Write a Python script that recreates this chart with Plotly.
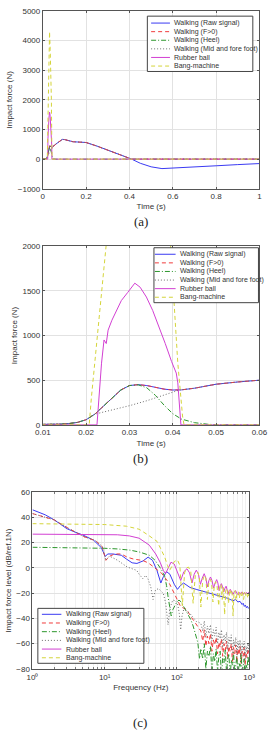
import plotly.graph_objects as go

W, H = 274, 751
def px(x):
    return x / W
def py(y):
    return 1 - y / H

# ---------------- data ----------------
series_names = ["Walking (Raw signal)", "Walking (F>0)", "Walking (Heel)",
                "Walking (Mid and fore foot)", "Rubber ball", "Bang-machine"]

# time-domain signals (s, N)
t_walk = [0, 0.010, 0.014, 0.016, 0.018, 0.020, 0.022, 0.024, 0.026, 0.028, 0.030,
          0.032, 0.034, 0.036, 0.038, 0.040, 0.042, 0.045, 0.050, 0.055, 0.060,
          0.07, 0.08, 0.09, 0.10, 0.12, 0.14, 0.16, 0.18, 0.20, 0.25, 0.30, 0.35,
          0.40, 0.41, 0.45, 0.50, 0.55, 0.60, 0.70, 0.80, 0.90, 1.00]
walk_raw = [0, 2, 8, 15, 28, 58, 120, 210, 305, 390, 440,
            450, 440, 420, 400, 390, 392, 410, 455, 480, 505,
            560, 630, 665, 660, 625, 585, 578, 572, 560, 440, 310, 180,
            45, 0, -140, -260, -320, -305, -265, -225, -185, -150]
walk_pos = [0, 2, 8, 15, 28, 58, 120, 210, 305, 390, 440,
            450, 440, 420, 400, 390, 392, 410, 455, 480, 505,
            560, 630, 665, 660, 625, 585, 578, 572, 560, 440, 310, 180,
            45, 0, 0, 0, 0, 0, 0, 0, 0, 0]

t_heel = [0, 0.010, 0.014, 0.016, 0.018, 0.020, 0.022, 0.024, 0.026, 0.028, 0.030,
          0.032, 0.034, 0.036, 0.038, 0.040, 0.042, 0.045, 0.048, 0.050, 0.060, 1.00]
heel = [0, 2, 8, 15, 28, 58, 120, 210, 305, 390, 440,
        448, 415, 330, 220, 125, 65, 25, 8, 2, 0, 0]

t_mid = [0, 0.016, 0.018, 0.020, 0.022, 0.026, 0.030, 0.034, 0.038, 0.0415, 0.045,
         0.050, 0.055, 0.060, 0.07, 0.08, 0.09, 0.10, 0.12, 0.14, 0.16, 0.18, 0.20,
         0.25, 0.30, 0.35, 0.40, 0.41, 1.00]
mid = [0, 15, 28, 58, 120, 165, 215, 270, 330, 390, 410,
       455, 480, 505, 560, 630, 665, 660, 625, 585, 578, 572, 560,
       440, 310, 180, 45, 0, 0]

t_ball = [0, 0.0225, 0.02355, 0.02413, 0.02464, 0.02507, 0.02594, 0.02703, 0.02812,
          0.02957, 0.03123, 0.03246, 0.03391, 0.03536, 0.03681, 0.03826, 0.03971,
          0.0408, 0.04116, 0.04152, 0.04188, 0.06, 1.00]
ball = [0, 0, 690, 950, 910, 1060, 1170, 1280, 1390,
        1480, 1585, 1540, 1430, 1280, 1100, 910, 710,
        580, 470, 250, 0, 0, 0]

t_bang = [0, 0.0207, 0.0212, 0.0246, 0.028, 0.031, 0.034, 0.037, 0.03949, 0.04116,
          0.04225, 0.0426, 0.06, 1.00]
bang = [0, 0, 300, 2000, 3500, 4300, 3700, 2900, 2000, 690,
        100, 0, 0, 0]

# spectra (Hz, dB re 1N)
f_raw = [1, 1.5, 2, 3, 4, 5, 7, 9, 10.2, 11, 13, 17, 20, 24, 28, 34, 40, 46, 53, 60,
         65, 72, 80, 92, 102, 112, 124, 137, 152, 185, 250, 300, 400, 500, 600, 650,
         700, 750, 800, 830, 860, 890, 920, 950, 980, 1000]
L_raw = [46, 42, 38, 31, 28, 26, 22, 16, 9, 11, 11, 10, 7, 4, 3.5, 5.5, 8.5, 6, -2, -12,
         -7, -3, -5, -13, -17, -14, -12, -13.5, -15.5, -17, -19, -20, -22.5, -24, -26, -25,
         -27, -26.5, -29, -28, -30.5, -29.5, -31.5, -30.5, -32, -31.5]

f_noise = [215, 228, 240, 252, 265, 278, 292, 306, 320, 335, 350, 366, 382, 398, 415,
           432, 450, 468, 487, 506, 526, 546, 567, 588, 610, 632, 655, 678, 702, 726,
           751, 776, 802, 828, 855, 882, 910, 938, 967, 1000]

f_pos = [1, 1.5, 2, 3, 4, 5, 7.5, 9.2, 10.4, 11.5, 13.7, 17, 20.5, 25, 33.8, 40, 48,
         62, 79, 97, 113, 125, 138, 150, 168, 185, 200]
L_pos = [43, 40, 38, 32, 28, 25, 21.5, 17, 6, 9, 11, 11, 8.5, 7, 5.8, 4, 0.6,
         -4.5, -12.5, -23, -30.7, -32, -33, -37, -41, -45, -48]
L_pos_noise = [-50, -58, -49, -62, -54, -60, -52, -66, -57, -61,
               -55, -68, -59, -63, -56, -70, -60, -65, -58, -72,
               -62, -66, -60, -74, -63, -68, -61, -75, -64, -69,
               -62, -76, -66, -70, -63, -77, -67, -71, -64, -68]

f_heel = [1, 3, 5, 10, 15, 22.7, 30.5, 41.5, 50, 56, 62, 68, 72, 76, 80, 83.5, 88, 92,
          100, 107, 115, 124, 134, 144, 156, 168, 181, 195, 206]
L_heel = [16.3, 16, 16, 15.5, 15, 14, 12.5, 10, 6, 2, -2, -7, -14, -24, -32, -38, -33,
          -30.5, -27, -25.5, -27, -30.5, -34, -37, -41, -46, -52, -59, -72]
L_heel_noise = [-64, -72, -60, -80, -66, -70, -62, -84, -68, -74,
                -64, -82, -70, -66, -86, -71, -75, -65, -83, -72,
                -68, -88, -73, -77, -67, -84, -74, -70, -89, -75,
                -78, -68, -85, -76, -72, -90, -77, -80, -70, -78]

f_mid = [1, 1.5, 2, 3, 4, 5, 7.5, 9.2, 10.4, 11.5, 12.5, 15.2, 20.5, 24, 27.8, 30,
         33.8, 37, 40, 43.5, 46.8, 50.6, 55.8, 65, 70, 75.5, 80, 87.8, 95, 102, 108,
         113, 118, 124, 135, 151, 170, 186, 200]
L_mid = [43, 40, 38, 32, 28, 25, 21.5, 17, 6, 9, 8.5, 5.9, 0.7, -1, -2, -5,
         -8.6, -6, -9, -15, -25, -17.5, -16.4, -20.3, -28, -45, -32, -25.5, -26, -28, -36,
         -49, -38, -33.3, -34, -36, -40, -42.4, -43]
L_mid_noise = [-44, -50, -42, -55, -46, -52, -45, -58, -49, -54,
               -47, -60, -51, -56, -49, -63, -53, -58, -51, -65,
               -55, -60, -53, -67, -57, -62, -55, -69, -58, -64,
               -57, -70, -60, -65, -58, -72, -62, -67, -60, -66]

f_ball = [1, 5, 10, 15, 22, 30, 41.5, 50.9, 58.6, 65, 69.6, 76, 83, 92, 100, 113, 125,
          138, 150, 162, 174, 186, 199, 212, 225, 239, 252, 265, 278, 292, 307, 322,
          339, 356, 370, 385, 400, 414, 430, 447, 464, 481, 495, 510, 530, 550, 575,
          600, 625, 650, 680, 710, 740, 770, 800, 830, 860, 890, 920, 950, 980, 1000]
L_ball = [26.7, 26.6, 26.5, 26.2, 25.3, 23.5, 18, 11, 4.5, -2, -4.6, 0, 4.5, 3, -2, -10,
          -3, -0.7, -4, -12, -5, -1.8, -5, -13, -8, -4.6, -8, -15, -10, -7.2, -10, -16,
          -12, -9.3, -12, -18, -14, -12.5, -15, -19, -16, -14.5, -17, -21, -18, -17, -19,
          -21, -19, -18, -20, -21.5, -19.5, -20.5, -19, -21, -19.5, -20.5, -19.5, -20.5,
          -19.5, -20]

f_bang = [1, 5, 10, 20, 30, 40, 53, 60, 68, 74, 79.5, 85, 92, 102, 110, 119, 128, 136,
          145, 156, 168, 180, 195, 205, 215, 228, 240, 252, 265, 277, 290, 303, 316,
          330, 345, 360, 380, 395, 410, 425, 440, 459, 475, 490, 505, 520, 540, 560,
          580, 600, 620, 640, 660, 685, 710, 735, 760, 785, 810, 840, 870, 900, 930,
          960, 1000]
L_bang = [35, 34.8, 34.3, 33, 30.6, 26, 21, 15, 8.4, 2, -2, 1, 5, 6.3, 2, -30, -4, 0,
          0.6, -3, -28, -6, -3.3, -8, -31, -10, -6, -8, -25, -12, -9, -12, -27,
          -14, -11, -14, -30, -14, -13, -25, -15, -37, -18, -16, -19, -28, -17, -20,
          -18, -38, -19, -18, -26, -19, -19, -24, -19, -22, -19, -25, -19.5, -22, -20,
          -24, -20]

freq_ticks = [1, 10, 100, 1000]
freq_tick_labels = ["10\u2070", "10\u00b9", "10\u00b2", "10\u00b3"]

# ---------------- styles ----------------
colors = ["#3a3af2", "#f03c3c", "#2c962c", "#6e6e6e", "#d23fd2", "#d4d43a"]
dashes = ["solid", "4px,3px", "5px,2px,1px,2px", "1px,2px", "solid", "4px,3px"]

time_series = [(t_walk, walk_raw), (t_walk, walk_pos), (t_heel, heel),
               (t_mid, mid), (t_ball, ball), (t_bang, bang)]
spec_series = [(f_raw, L_raw), (f_pos + f_noise, L_pos + L_pos_noise),
               (f_heel + f_noise, L_heel + L_heel_noise),
               (f_mid + f_noise, L_mid + L_mid_noise),
               (f_ball, L_ball), (f_bang, L_bang)]

fig = go.Figure()
for (xa, ya) in [("x", "y"), ("x2", "y2")]:
    for i, (tx, ty) in enumerate(time_series):
        fig.add_trace(go.Scatter(x=tx, y=ty, mode="lines", name=series_names[i],
                                 xaxis=xa, yaxis=ya, showlegend=False,
                                 line=dict(color=colors[i], width=1, dash=dashes[i])))
for i, (fx, fy) in enumerate(spec_series):
    fig.add_trace(go.Scatter(x=fx, y=fy, mode="lines", name=series_names[i],
                             xaxis="x3", yaxis="y3", showlegend=False,
                             line=dict(color=colors[i], width=1, dash=dashes[i])))

axis_common = dict(showline=True, linecolor="#555", linewidth=1, mirror="ticks",
                   ticks="inside", ticklen=2, tickcolor="#555", showgrid=True,
                   gridcolor="#e2e2e2", zeroline=False,
                   tickfont=dict(size=8, color="#333"))
title_font = dict(size=8, color="#333")

minor_vals = [2, 3, 4, 5, 6, 7, 8, 9, 20, 30, 40, 50, 60, 70, 80, 90,
              200, 300, 400, 500, 600, 700, 800, 900]

fig.update_layout(
    width=W, height=H, margin=dict(l=0, r=0, t=0, b=0),
    paper_bgcolor="white", plot_bgcolor="white",
    font=dict(family="Liberation Sans, Arial, sans-serif", size=8, color="#333"),
    xaxis=dict(domain=[px(37), px(267)], anchor="y", range=[0, 1],
               tickvals=[0, 0.2, 0.4, 0.6, 0.8, 1], ticktext=["0", "0.2", "0.4", "0.6", "0.8", "1"],
               title=dict(text="Time (s)", font=title_font, standoff=3), **axis_common),
    yaxis=dict(domain=[py(187), py(7)], anchor="x", range=[-1000, 5000], dtick=1000,
               title=dict(text="Impact force (N)", font=title_font, standoff=3), **axis_common),
    xaxis2=dict(domain=[px(37), px(267)], anchor="y2", range=[0.01, 0.06],
                tickvals=[0.01, 0.02, 0.03, 0.04, 0.05, 0.06],
                ticktext=["0.01", "0.02", "0.03", "0.04", "0.05", "0.06"],
                title=dict(text="Time (s)", font=title_font, standoff=3), **axis_common),
    yaxis2=dict(domain=[py(426), py(245)], anchor="x2", range=[0, 2000], dtick=500,
                title=dict(text="Impact force (N)", font=title_font, standoff=3), **axis_common),
    xaxis3=dict(domain=[px(26), px(256)], anchor="y3", type="log", range=[0, 3],
                tickvals=freq_ticks, ticktext=freq_tick_labels,
                minor=dict(tickmode="array", tickvals=minor_vals, ticks="inside", ticklen=1.5,
                           tickcolor="#777", showgrid=True, gridcolor="#f1f1f1"),
                title=dict(text="Frequency (Hz)", font=title_font, standoff=3), **axis_common),
    yaxis3=dict(domain=[py(673), py(494)], anchor="x3", range=[-80, 60], dtick=20,
                title=dict(text="Impact force level (dB/ref.1N)", font=title_font, standoff=3),
                **axis_common),
)

# ---------------- legends (one box per panel) ----------------
legend_boxes = [
    # box x0, x1, y0, y1, line x0, x1, text x, first row y, row step
    (148, 260, 12.3, 68.3, 152, 172, 174, 19.3, 8.7),
    (155, 266, 246.7, 302.3, 156, 178, 180.3, 253.3, 8.7),
    (31.7, 144.3, 611.7, 667.3, 36, 56.7, 59.3, 617.7, 8.8),
]
shapes = []
annotations = []
for (bx0, bx1, by0, by1, lx0, lx1, tx, ry0, rstep) in legend_boxes:
    shapes.append(dict(type="rect", xref="paper", yref="paper", layer="above",
                       x0=px(bx0), x1=px(bx1), y0=py(by1), y1=py(by0),
                       line=dict(color="#444", width=1), fillcolor="white"))
    for i, name in enumerate(series_names):
        yy = ry0 + i * rstep
        shapes.append(dict(type="line", xref="paper", yref="paper", layer="above",
                           x0=px(lx0), x1=px(lx1), y0=py(yy), y1=py(yy),
                           line=dict(color=colors[i], width=1, dash=dashes[i])))
        annotations.append(dict(xref="paper", yref="paper", x=px(tx), y=py(yy),
                                xanchor="left", yanchor="middle", showarrow=False,
                                text=name, font=dict(size=7, color="#333")))

panel_labels = [("(a)", 141, 220), ("(b)", 141, 460), ("(c)", 140, 727)]
for txt, x, y in panel_labels:
    annotations.append(dict(xref="paper", yref="paper", x=px(x), y=py(y),
                            xanchor="center", yanchor="middle", showarrow=False, text=txt,
                            font=dict(family="Liberation Serif, Times New Roman, serif",
                                      size=13, color="#222")))

fig.update_layout(shapes=shapes, annotations=annotations)
fig.write_html("out.html")
